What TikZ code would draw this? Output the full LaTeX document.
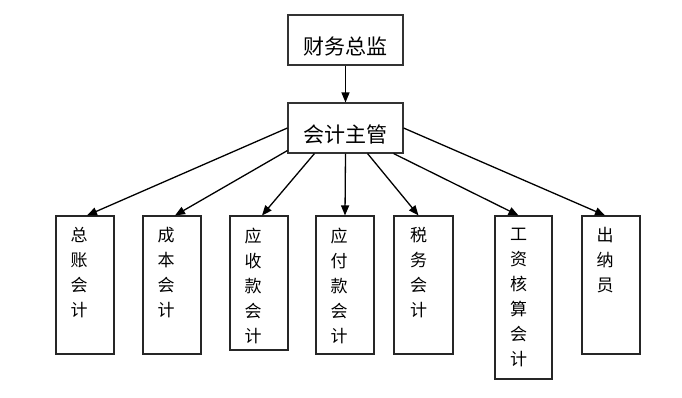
\documentclass[tikz,border=0pt]{standalone}
\usepackage{fontspec}
\newfontfamily\cjk{Noto Sans CJK SC}
\usetikzlibrary{arrows.meta,positioning}

\begin{document}
\begin{tikzpicture}[
  x=1pt,y=-1pt,
  boss/.style={draw=black!80,line width=1.1pt,minimum width=115pt,minimum height=50pt,
               inner sep=0pt,text height=40pt,text depth=10pt,font=\cjk\fontsize{21}{25}\selectfont},
  staff/.style={draw=black!85,line width=1.1pt,minimum width=58pt,inner sep=0pt},
  col/.style={anchor=north,align=center,inner sep=0pt,font=\cjk\fontsize{17}{25}\selectfont},
  arr/.style={-{Triangle[length=10pt,width=8pt]},line width=1.3pt,black}
]
  \useasboundingbox (0,0) rectangle (682,398);
  \fill[white] (0,0) rectangle (682,398);
  % top two levels
  \node[boss] (cfo) at (345.5,40) {财务总监};
  \node[boss] (mgr) at (345.5,128) {会计主管};
  \draw[arr] (cfo) -- (mgr);
  % accountants
  \node[staff,minimum height=138pt] (gl) at (85,285) {};
  \node[staff,minimum height=138pt] (cost) at (172,285) {};
  \node[staff,minimum height=134pt] (ar) at (259,283) {};
  \node[staff,minimum height=138pt] (ap) at (345,285) {};
  \node[staff,minimum height=138pt,minimum width=59pt] (tax) at (423.5,285) {};
  \node[staff,minimum height=163pt,minimum width=57pt] (pay) at (523.5,297.5) {};
  \node[staff,minimum height=138pt] (cash) at (611,285) {};
  \node[col] (glt) at ([xshift=-6pt,yshift=-12pt]gl.north) {总\\账\\会\\计};
  \node[col] (costt) at ([xshift=-6pt,yshift=-12pt]cost.north) {成\\本\\会\\计};
  \node[col] (art) at ([xshift=-6pt,yshift=-12pt]ar.north) {应\\收\\款\\会\\计};
  \node[col] (apt) at ([xshift=-6pt,yshift=-12pt]ap.north) {应\\付\\款\\会\\计};
  \node[col] (taxt) at ([xshift=-5pt,yshift=-12pt]tax.north) {税\\务\\会\\计};
  \node[col] (payt) at ([xshift=-5pt,yshift=-12pt]pay.north) {工\\资\\核\\算\\会\\计};
  \node[col] (casht) at ([xshift=-6pt,yshift=-12pt]cash.north) {出\\纳\\员};
  % connectors
  \draw[arr] (mgr.west) -- ([xshift=2pt]gl.north);
  \draw[arr] ([yshift=3pt]mgr.south west) -- ([xshift=3pt]cost.north);
  \draw[arr] ([xshift=27pt]mgr.south west) -- ([xshift=3pt]ar.north);
  \draw[arr] (mgr.south) -- (ap.north);
  \draw[arr] ([xshift=-36pt]mgr.south east) -- ([xshift=-5pt]tax.north);
  \draw[arr] ([xshift=-10pt]mgr.south east) -- ([xshift=-5pt]pay.north);
  \draw[arr] (mgr.east) -- ([xshift=-6pt]cash.north);
\end{tikzpicture}
\end{document}
